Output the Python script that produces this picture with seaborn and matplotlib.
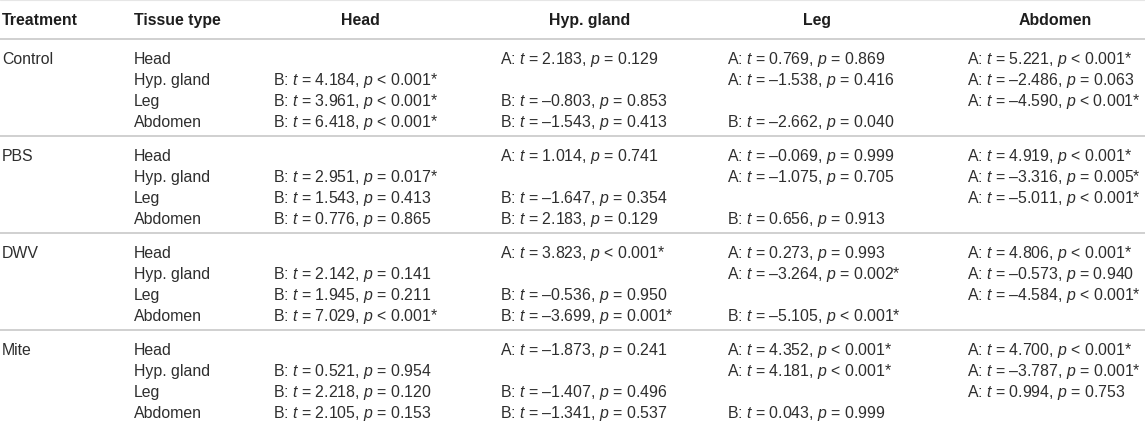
import numpy as np
import matplotlib
matplotlib.use("Agg")
import matplotlib.pyplot as plt
import seaborn as sns

# ---------------- data ----------------
treatments = ["Control", "PBS", "DWV", "Mite"]
tissues = ["Head", "Hyp. gland", "Leg", "Abdomen"]
col_headers = ["Treatment", "Tissue type", "Head", "Hyp. gland", "Leg", "Abdomen"]

nan = np.nan
# t statistics: rows = tissue type, cols = compared tissue (diagonal empty)
t_control = [[nan, 2.183, 0.769, 5.221],
             [4.184, nan, -1.538, -2.486],
             [3.961, -0.803, nan, -4.590],
             [6.418, -1.543, -2.662, nan]]
t_pbs = [[nan, 1.014, -0.069, 4.919],
         [2.951, nan, -1.075, -3.316],
         [1.543, -1.647, nan, -5.011],
         [0.776, 2.183, 0.656, nan]]
t_dwv = [[nan, 3.823, 0.273, 4.806],
         [2.142, nan, -3.264, -0.573],
         [1.945, -0.536, nan, -4.584],
         [7.029, -3.699, -5.105, nan]]
t_mite = [[nan, -1.873, 4.352, 4.700],
          [0.521, nan, 4.181, -3.787],
          [2.218, -1.407, nan, 0.994],
          [2.105, -1.341, 0.043, nan]]

# p values (0.0 means p < 0.001)
p_control = [[nan, 0.129, 0.869, 0.0],
             [0.0, nan, 0.416, 0.063],
             [0.0, 0.853, nan, 0.0],
             [0.0, 0.413, 0.040, nan]]
p_pbs = [[nan, 0.741, 0.999, 0.0],
         [0.017, nan, 0.705, 0.005],
         [0.413, 0.354, nan, 0.0],
         [0.865, 0.129, 0.913, nan]]
p_dwv = [[nan, 0.0, 0.993, 0.0],
         [0.141, nan, 0.002, 0.940],
         [0.211, 0.950, nan, 0.0],
         [0.0, 0.001, 0.0, nan]]
p_mite = [[nan, 0.241, 0.0, 0.0],
          [0.954, nan, 0.0, 0.001],
          [0.120, 0.496, nan, 0.753],
          [0.153, 0.537, 0.999, nan]]

t_all = [t_control, t_pbs, t_dwv, t_mite]
p_all = [p_control, p_pbs, p_dwv, p_mite]
sig_threshold = 0.025

# ---------------- style ----------------
sns.set_theme(style="white")
plt.rcParams["font.family"] = ["Liberation Sans", "DejaVu Sans"]
plt.rcParams["mathtext.fontset"] = "custom"
plt.rcParams["mathtext.rm"] = "Liberation Sans"
plt.rcParams["mathtext.it"] = "Liberation Sans:italic"
plt.rcParams["mathtext.bf"] = "Liberation Sans:bold"

W, H = 1145, 431
fig = plt.figure(figsize=(W / 100, H / 100), dpi=100)
ax = fig.add_axes([0, 0, 1, 1])
ax.set_xlim(0, W)
ax.set_ylim(H, 0)
ax.axis("off")

FS = 11.4
body_col = "#2e2e2e"
head_col = "#1e1e1e"
line_col = "#c4c4c4"

x_treat = 2
x_tissue = 134
x_data = [273, 500, 727, 967]
x_head_c = [360, 590, 817, 1055]

y_header = 25          # baseline
y_first = 64           # baseline of first body row
row_pitch = 21
group_pitch = 97

# header
ax.text(x_treat, y_header, col_headers[0], ha="left", va="baseline",
        fontsize=FS, fontweight="bold", color=head_col)
ax.text(x_tissue, y_header, col_headers[1], ha="left", va="baseline",
        fontsize=FS, fontweight="bold", color=head_col)
for j, h in enumerate(col_headers[2:]):
    ax.text(x_head_c[j], y_header, h, ha="center", va="baseline",
            fontsize=FS, fontweight="bold", color=head_col)

ax.axhline(0.6, color="#e6e6e6", lw=0.8)


def fmt_num(v):
    s = f"{abs(v):.3f}"
    return ("\u2013" + s) if v < 0 else s


for g, tr in enumerate(treatments):
    y0 = y_first + g * group_pitch
    ax.axhline(y0 - 24.5, color=line_col, lw=1.1)
    ax.text(x_treat, y0, tr, ha="left", va="baseline", fontsize=FS, color=body_col)
    for r, tis in enumerate(tissues):
        y = y0 + r * row_pitch
        ax.text(x_tissue, y, tis, ha="left", va="baseline", fontsize=FS, color=body_col)
        for c in range(len(tissues)):
            tv = t_all[g][r][c]
            pv = p_all[g][r][c]
            if np.isnan(tv):
                continue
            letter = "A" if c > r else "B"
            if pv == 0.0:
                ptxt = "< 0.001"
            else:
                ptxt = f"= {pv:.3f}"
            star = "*" if pv < sig_threshold else ""
            s = f"{letter}: $t$ = {fmt_num(tv)}, $p$ {ptxt}{star}"
            ax.text(x_data[c], y, s, ha="left", va="baseline", fontsize=FS, color=body_col)

fig.savefig("out.png", dpi=100, facecolor="white")
